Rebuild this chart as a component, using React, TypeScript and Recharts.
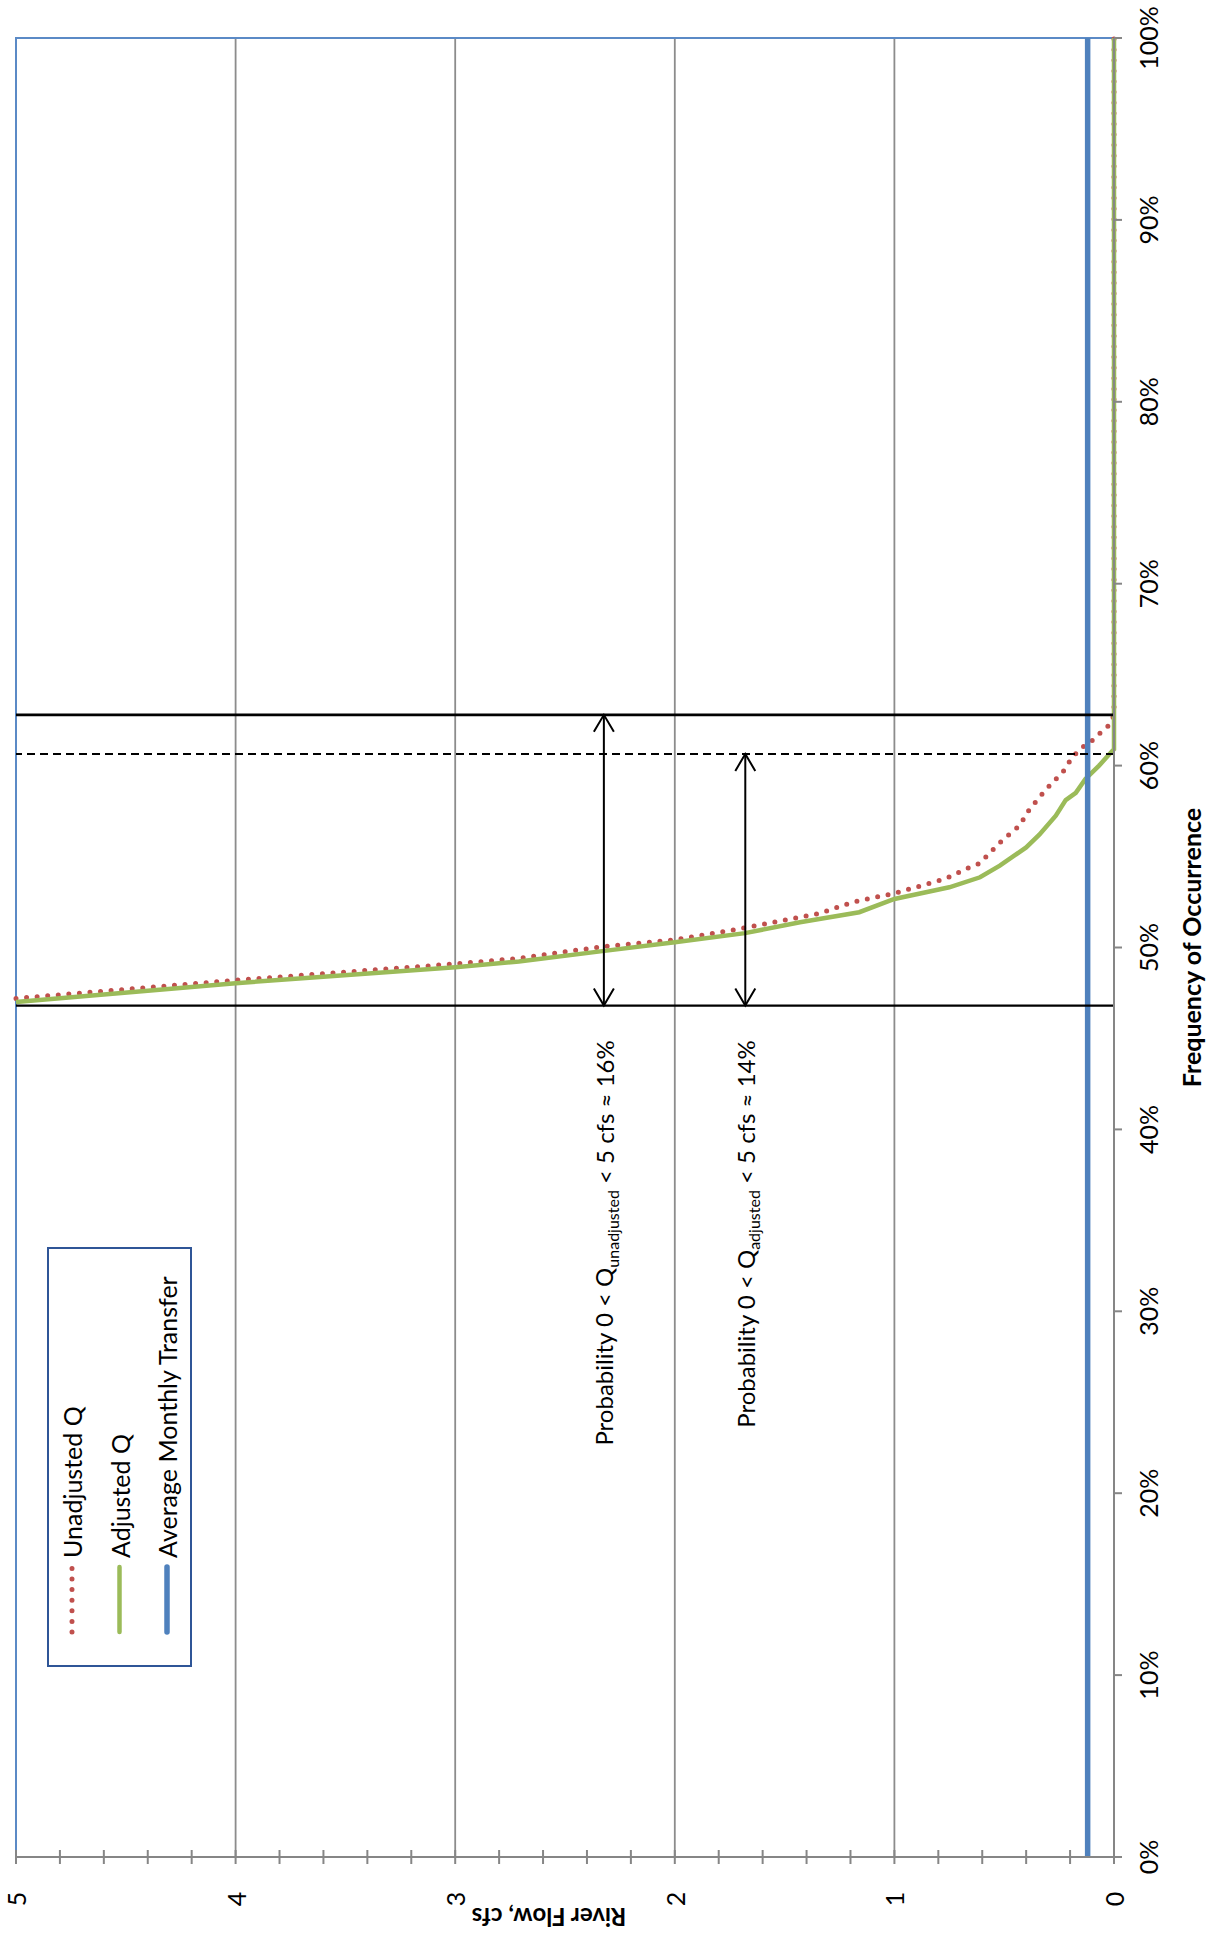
import React from 'react';
import {
  LineChart,
  Line,
  XAxis,
  YAxis,
  CartesianGrid,
  ReferenceLine,
  ReferenceArea,
  ReferenceDot,
  Legend,
  Label,
} from 'recharts';

const FONT = "Lato, 'Open Sans', sans-serif";

// Flow duration curves: frequency of occurrence (%) against river flow (cfs)
const unadjustedFreq = [47.2, 48.2, 49.1, 49.4, 50.05, 50.42, 51.08, 51.67, 51.88, 52.49, 52.98, 53.77, 54.4, 54.63, 55.15, 55.88, 56.7, 57.5, 58.26, 59.08, 59.6, 60.46, 61.0, 61.37, 61.9, 62.3, 62.8, 100];
const unadjustedFlow = [5.0, 4.0, 3.0, 2.71, 2.33, 2.0, 1.68, 1.43, 1.34, 1.19, 1.0, 0.77, 0.66, 0.61, 0.57, 0.51, 0.43, 0.39, 0.34, 0.28, 0.235, 0.19, 0.144, 0.1, 0.053, 0.015, 0, 0];

const adjustedFreq = [47.0, 48.04, 48.92, 49.23, 49.8, 50.29, 50.79, 51.39, 51.94, 52.67, 53.31, 53.86, 54.5, 55.5, 56.2, 57.25, 58.1, 58.5, 59.27, 60.0, 60.8, 60.9, 100];
const adjustedFlow = [5.0, 4.0, 3.0, 2.71, 2.33, 2.0, 1.68, 1.43, 1.16, 1.0, 0.75, 0.61, 0.52, 0.4, 0.34, 0.265, 0.22, 0.174, 0.13, 0.068, 0.008, 0, 0];

const transferFreq = [0, 100];
const transferFlow = [0.12, 0.12];

// Frequencies where each curve first exceeds 5 cfs and reaches zero
const freqAbove5 = 46.81;
const freqZeroUnadjusted = 62.79;
const freqZeroAdjusted = 60.64;
// Flow positions of the two double arrows
const arrowFlowUnadjusted = 2.323;
const arrowFlowAdjusted = 1.679;
const annotationFreq = 44.9;

// Axis ticks
const freqTicks = [0, 10, 20, 30, 40, 50, 60, 70, 80, 90, 100];
const flowTicks = [0, 0.2, 0.4, 0.6, 0.8, 1, 1.2, 1.4, 1.6, 1.8, 2, 2.2, 2.4, 2.6, 2.8, 3, 3.2, 3.4, 3.6, 3.8, 4, 4.2, 4.4, 4.6, 4.8, 5];
const flowMajorTicks = [0, 1, 2, 3, 4, 5];
const flowGridValues = [1, 2, 3, 4];

const seriesNames = ['Unadjusted Q', 'Adjusted Q', 'Average Monthly Transfer'];

const zip = (f: number[], q: number[]) => f.map((v, i) => ({ f: v, q: q[i] }));
const unadjustedData = zip(unadjustedFreq, unadjustedFlow);
const adjustedData = zip(adjustedFreq, adjustedFlow);
const transferData = zip(transferFreq, transferFlow);

const SERIES_STYLE: Record<string, { color: string; width: number; dash?: string }> = {
  'Unadjusted Q': { color: '#C0504D', width: 5, dash: '0 10.6' },
  'Adjusted Q': { color: '#9BBB59', width: 4.5 },
  'Average Monthly Transfer': { color: '#4F81BD', width: 5.5 },
};

const AXIS_GRAY = '#868686';
const TICK_FONT = 25;

const FreqTick = (p: any) => (
  <text
    x={p.x}
    y={p.y + 26}
    textAnchor="middle"
    dominantBaseline="central"
    fontSize={TICK_FONT}
    fontFamily={FONT}
    fill="#000"
  >
    {`${p.payload.value}%`}
  </text>
);

const FlowTick = (p: any) => {
  const v = p.payload.value;
  const major = flowMajorTicks.some((m) => Math.abs(m - v) < 1e-6);
  return (
    <g>
      <line x1={p.x - 7} x2={p.x + 7} y1={p.y} y2={p.y} stroke={AXIS_GRAY} strokeWidth={2} />
      {major && (
        <text
          x={p.x - 42}
          y={p.y}
          textAnchor="middle"
          dominantBaseline="central"
          fontSize={TICK_FONT}
          fontFamily={FONT}
          fill="#000"
        >
          {v}
        </text>
      )}
    </g>
  );
};

const DoubleArrow = (p: any) => {
  const { x1, y1, x2, y2 } = p;
  const L = 17;
  const W = 10;
  const left = Math.min(x1, x2);
  const right = Math.max(x1, x2);
  return (
    <g>
      <line x1={left} y1={y1} x2={right} y2={y2} stroke="#000" strokeWidth={2} />
      <polyline
        points={`${left + L},${y1 - W} ${left},${y1} ${left + L},${y1 + W}`}
        fill="none"
        stroke="#000"
        strokeWidth={2}
      />
      <polyline
        points={`${right - L},${y2 - W} ${right},${y2} ${right - L},${y2 + W}`}
        fill="none"
        stroke="#000"
        strokeWidth={2}
      />
    </g>
  );
};

const probabilityText = (sub: string, pct: string) => (p: any) => (
  <text
    x={p.cx}
    y={p.cy}
    textAnchor="end"
    dominantBaseline="central"
    fontSize={24}
    fontFamily={FONT}
    fill="#000"
  >
    {'Probability 0 < Q'}
    <tspan fontSize={16} dy={8}>
      {sub}
    </tspan>
    <tspan dy={-8}>{` < 5 cfs \u2248 ${pct}`}</tspan>
  </text>
);

const LegendBox = (props: any) => {
  const payload = props.payload || [];
  const ordered = seriesNames
    .map((n) => payload.find((e: any) => e.value === n))
    .filter(Boolean);
  return (
    <svg width={420} height={145} style={{ display: 'block' }}>
      <rect x={1} y={1} width={418} height={143} fill="#fff" stroke="#2F5597" strokeWidth={2} />
      {ordered.map((entry: any, i: number) => {
        const y = 25 + i * 47.5;
        const st = SERIES_STYLE[entry.value] || { color: entry.color, width: 4 };
        return (
          <g key={entry.value}>
            <line
              x1={35}
              x2={100}
              y1={y}
              y2={y}
              stroke={st.color}
              strokeWidth={st.width}
              strokeDasharray={st.dash}
              strokeLinecap="round"
            />
            <text
              x={109}
              y={y}
              dominantBaseline="central"
              fontSize={25}
              fontFamily={FONT}
              fill="#000"
            >
              {entry.value}
            </text>
          </g>
        );
      })}
    </svg>
  );
};

const XTitle = (props: any) => {
  const vb = props.viewBox || { x: 80, y: 1114, width: 1819, height: 95 };
  return (
    <text
      x={vb.x + vb.width / 2}
      y={vb.y + 77}
      textAnchor="middle"
      dominantBaseline="central"
      fontSize={25}
      fontWeight="bold"
      fontFamily={FONT}
      fill="#000"
    >
      Frequency of Occurrence
    </text>
  );
};

const YTitle = (props: any) => {
  const vb = props.viewBox || { x: 0, y: 16, width: 80, height: 1098 };
  const cx = vb.x + 20;
  const cy = vb.y + vb.height / 2 - 16;
  return (
    <text
      x={cx}
      y={cy}
      transform={`rotate(-90 ${cx} ${cy})`}
      textAnchor="middle"
      dominantBaseline="central"
      fontSize={24}
      fontWeight="bold"
      fontFamily={FONT}
      fill="#000"
    >
      River Flow, cfs
    </text>
  );
};

export default function App() {
  return (
    <div
      style={{
        position: 'absolute',
        left: 0,
        top: 0,
        width: 1937,
        height: 1209,
        background: '#fff',
        transformOrigin: '0 0',
        transform: 'translateY(1937px) rotate(-90deg)',
      }}
    >
      <LineChart width={1937} height={1209} margin={{ top: 16, right: 38, bottom: 0, left: 0 }}>
        <CartesianGrid
          vertical={false}
          horizontalValues={flowGridValues}
          stroke="#8C8C8C"
          strokeWidth={1.8}
        />
        <ReferenceArea
          x1={0}
          x2={100}
          y1={0}
          y2={5}
          fill="none"
          fillOpacity={0}
          stroke="#5B8AC6"
          strokeWidth={2}
        />
        <XAxis
          type="number"
          dataKey="f"
          domain={[0, 100]}
          ticks={freqTicks}
          interval={0}
          height={95}
          tickSize={8}
          tickMargin={0}
          axisLine={{ stroke: AXIS_GRAY, strokeWidth: 2 }}
          tickLine={{ stroke: AXIS_GRAY, strokeWidth: 2 }}
          tick={<FreqTick />}
        >
          <Label content={<XTitle />} />
        </XAxis>
        <YAxis
          type="number"
          dataKey="q"
          domain={[0, 5]}
          ticks={flowTicks}
          interval={0}
          width={80}
          tickSize={0}
          tickMargin={0}
          tickLine={false}
          axisLine={{ stroke: AXIS_GRAY, strokeWidth: 2 }}
          tick={<FlowTick />}
        >
          <Label content={<YTitle />} />
        </YAxis>
        <Line
          name="Unadjusted Q"
          data={unadjustedData}
          dataKey="q"
          type="linear"
          stroke={SERIES_STYLE['Unadjusted Q'].color}
          strokeWidth={SERIES_STYLE['Unadjusted Q'].width}
          strokeDasharray={SERIES_STYLE['Unadjusted Q'].dash}
          strokeLinecap="round"
          dot={false}
          activeDot={false}
          isAnimationActive={false}
        />
        <Line
          name="Adjusted Q"
          data={adjustedData}
          dataKey="q"
          type="linear"
          stroke={SERIES_STYLE['Adjusted Q'].color}
          strokeWidth={SERIES_STYLE['Adjusted Q'].width}
          dot={false}
          activeDot={false}
          isAnimationActive={false}
        />
        <Line
          name="Average Monthly Transfer"
          data={transferData}
          dataKey="q"
          type="linear"
          stroke={SERIES_STYLE['Average Monthly Transfer'].color}
          strokeWidth={SERIES_STYLE['Average Monthly Transfer'].width}
          dot={false}
          activeDot={false}
          isAnimationActive={false}
        />
        <ReferenceLine x={freqZeroUnadjusted} stroke="#000" strokeWidth={2.8} />
        <ReferenceLine x={freqZeroAdjusted} stroke="#000" strokeWidth={2} strokeDasharray="8 5" />
        <ReferenceLine x={freqAbove5} stroke="#000" strokeWidth={2.2} />
        <ReferenceLine
          segment={[
            { x: freqAbove5, y: arrowFlowUnadjusted },
            { x: freqZeroUnadjusted, y: arrowFlowUnadjusted },
          ]}
          shape={DoubleArrow}
        />
        <ReferenceLine
          segment={[
            { x: freqAbove5, y: arrowFlowAdjusted },
            { x: freqZeroAdjusted, y: arrowFlowAdjusted },
          ]}
          shape={DoubleArrow}
        />
        <ReferenceDot
          x={annotationFreq}
          y={arrowFlowUnadjusted}
          r={0}
          shape={probabilityText('unadjusted', '16%')}
        />
        <ReferenceDot
          x={annotationFreq}
          y={arrowFlowAdjusted}
          r={0}
          shape={probabilityText('adjusted', '14%')}
        />
        <Legend
          layout="horizontal"
          verticalAlign="middle"
          align="center"
          wrapperStyle={{ left: 270, top: 47, width: 420, height: 145 }}
          content={<LegendBox />}
        />
      </LineChart>
    </div>
  );
}
